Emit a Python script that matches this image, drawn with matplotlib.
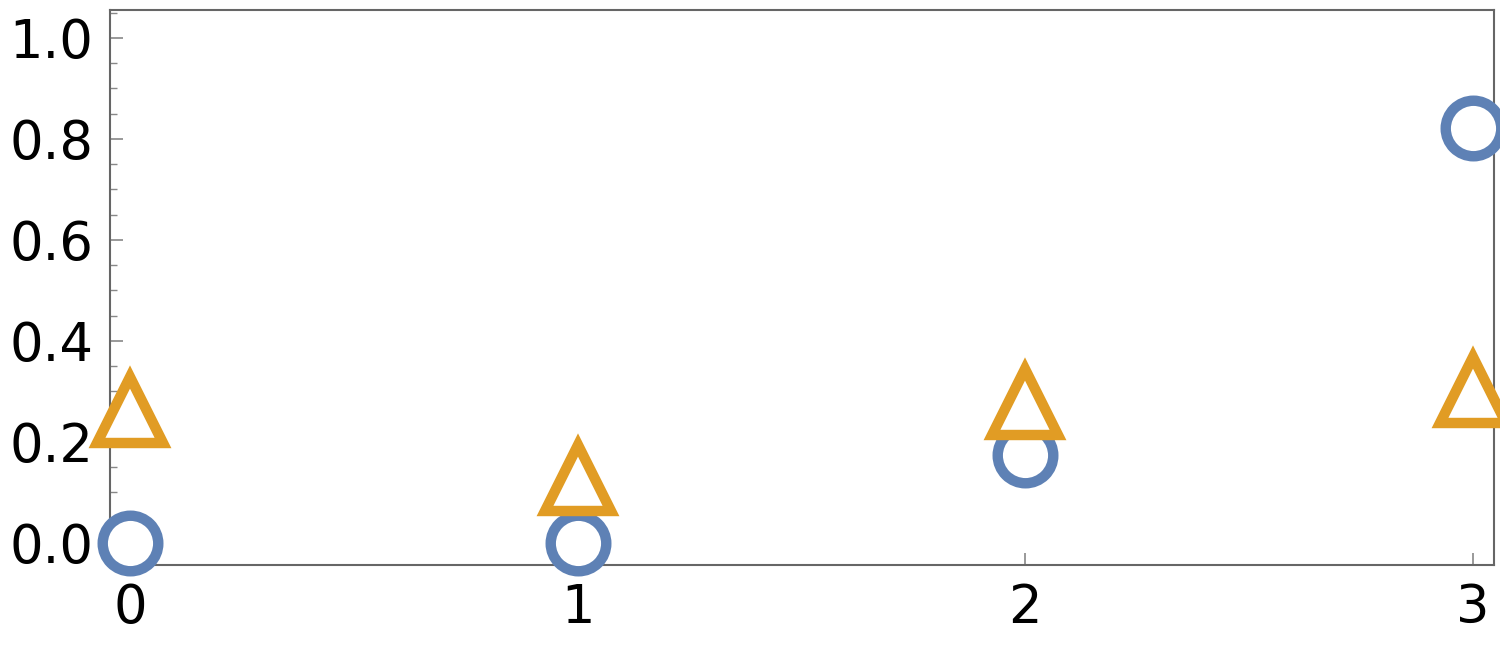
import numpy as np
from matplotlib import pyplot as plt
from matplotlib.ticker import MultipleLocator

x = [0, 1, 2, 3]
circles = [0.0, 0.0, 0.174, 0.822]
triangles = [0.262, 0.128, 0.278, 0.302]

fig = plt.figure(figsize=(15, 6.59), dpi=100)
ax = fig.add_axes([110 / 1500, 1 - 565 / 659, 1384 / 1500, 555 / 659])

ax.plot(x, circles, linestyle="none", marker="o", markersize=40, markerfacecolor="white",
        markeredgecolor="#5e81b5", markeredgewidth=7.5, clip_on=False, zorder=3)
ax.plot(x, triangles, linestyle="none", marker="^", markersize=48, markerfacecolor="white",
        markeredgecolor="#e19c24", markeredgewidth=7.5, clip_on=False, zorder=3)

ax.set_xlim(-0.045, 3.047)
ax.set_ylim(-0.044, 1.055)
ax.set_xticks(x)
ax.yaxis.set_major_locator(MultipleLocator(0.2))
ax.yaxis.set_minor_locator(MultipleLocator(0.05))
ax.yaxis.set_major_formatter(plt.FuncFormatter(lambda v, p: f"{v:.1f}"))
for s in ax.spines.values():
    s.set_color("#666666")
    s.set_linewidth(1.5)
ax.tick_params(axis="both", which="major", direction="in", length=9, width=1.2,
               color="#888888", labelsize=38, pad=12)
ax.tick_params(axis="y", which="minor", direction="in", length=5, width=1, color="#888888")

fig.savefig("out.png")
